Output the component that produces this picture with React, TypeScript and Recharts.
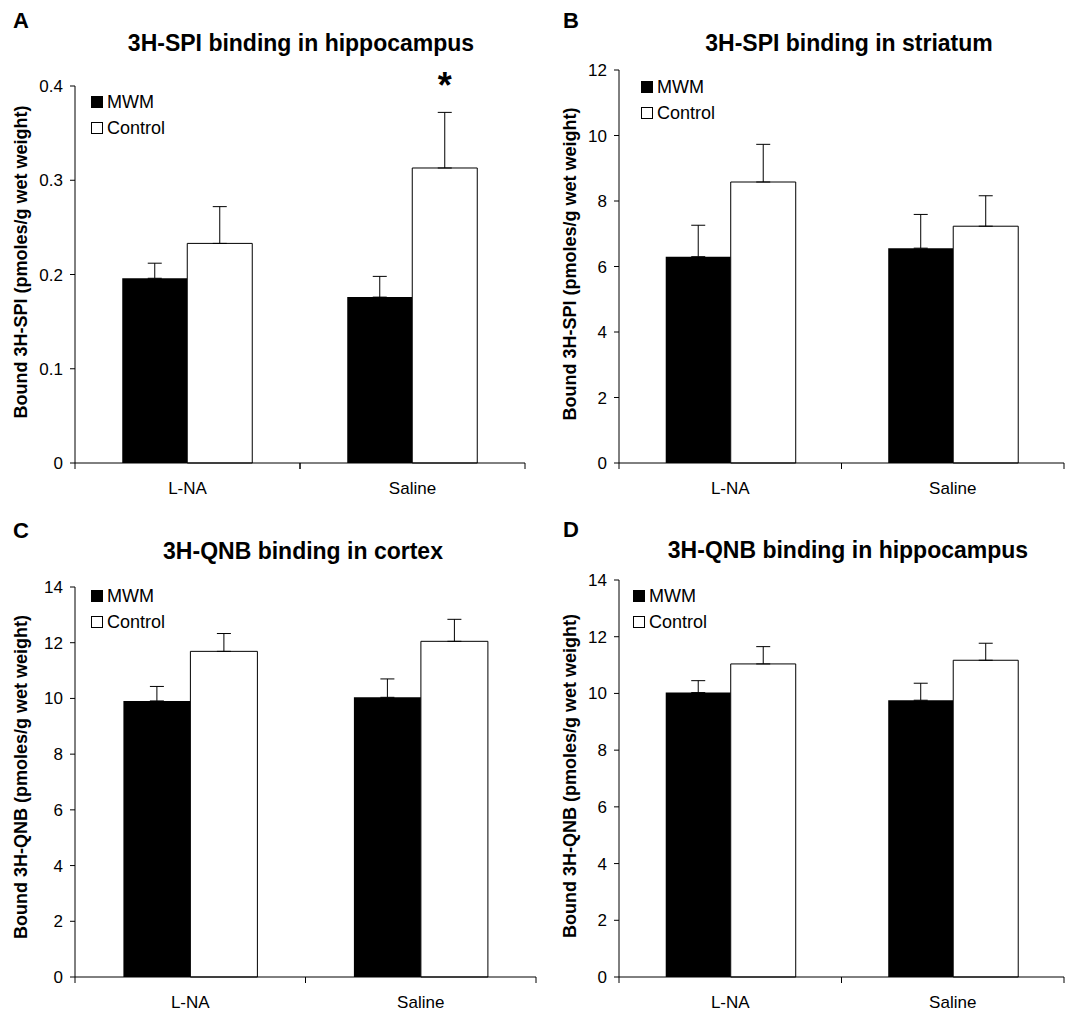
import React from 'react'
import { BarChart, Bar, XAxis, YAxis, ErrorBar, Legend } from 'recharts'

const FONT = '"Liberation Sans", Arial, sans-serif'

const categories = ['L-NA', 'Saline']
const seriesNames = ['MWM', 'Control']

// A: 3H-SPI in hippocampus
const spiHippMwm = [0.196, 0.176]
const spiHippMwmErr = [0.016, 0.022]
const spiHippCtrl = [0.233, 0.313]
const spiHippCtrlErr = [0.039, 0.059]
const spiHippSig = [false, true]
const spiHippTicks = [0, 0.1, 0.2, 0.3, 0.4]

// B: 3H-SPI in striatum
const spiStrMwm = [6.3, 6.56]
const spiStrMwmErr = [0.96, 1.03]
const spiStrCtrl = [8.58, 7.23]
const spiStrCtrlErr = [1.15, 0.93]
const spiStrTicks = [0, 2, 4, 6, 8, 10, 12]

// C: 3H-QNB in cortex
const qnbCtxMwm = [9.91, 10.04]
const qnbCtxMwmErr = [0.52, 0.66]
const qnbCtxCtrl = [11.69, 12.05]
const qnbCtxCtrlErr = [0.64, 0.79]

// D: 3H-QNB in hippocampus
const qnbHippMwm = [10.03, 9.76]
const qnbHippMwmErr = [0.42, 0.6]
const qnbHippCtrl = [11.04, 11.17]
const qnbHippCtrlErr = [0.61, 0.6]
const qnbTicks = [0, 2, 4, 6, 8, 10, 12, 14]

const noSig = [false, false]

function buildData(mwm: number[], mwmErr: number[], ctrl: number[], ctrlErr: number[], sig: boolean[]) {
  return categories.map((cat, i) => ({
    cat,
    mwm: mwm[i],
    mwmErr: [0, mwmErr[i]],
    ctrl: ctrl[i],
    ctrlErr: [0, ctrlErr[i]],
    sig: sig[i],
  }))
}

const renderLegend = (props: any) => {
  const items = [...(props.payload || [])].sort(
    (a: any, b: any) => seriesNames.indexOf(a.value) - seriesNames.indexOf(b.value)
  )
  return (
    <div style={{ fontFamily: FONT, fontSize: 18, color: '#000' }}>
      {items.map((e: any) => (
        <div key={e.value} style={{ display: 'flex', alignItems: 'center', height: 26 }}>
          <span
            style={{
              display: 'inline-block',
              width: 10,
              height: 10,
              background: e.color,
              border: '1px solid #000',
              marginRight: 4,
            }}
          />
          <span>{e.value}</span>
        </div>
      ))}
    </div>
  )
}

interface PanelProps {
  left: number
  top: number
  width: number
  height: number
  margin: { top: number; right: number; bottom: number; left: number }
  yWidth: number
  ticks: number[]
  data: any[]
  yLabel: string
  yLabelX: number
  yLabelY: number
  legendLeft: number
  legendTop: number
}

function Panel(p: PanelProps) {
  const plotW = p.width - p.margin.left - p.margin.right - p.yWidth
  const band = plotW / categories.length

  const catTick = (t: any) => {
    const { x, y, payload } = t
    return (
      <g>
        <line x1={x - band / 2} x2={x - band / 2} y1={y} y2={y + 6} stroke="#000" />
        <line x1={x + band / 2} x2={x + band / 2} y1={y} y2={y + 6} stroke="#000" />
        <text x={x} y={y + 31} textAnchor="middle" fontSize={17} fontFamily={FONT} fill="#000">
          {payload.value}
        </text>
      </g>
    )
  }

  const star = (l: any) => {
    const { x, y, width, index } = l
    if (!p.data[index] || !p.data[index].sig) return null
    return (
      <text x={x + width / 2} y={y - 70} textAnchor="middle" fontSize={36} fontWeight="bold" fontFamily={FONT} fill="#000">
        *
      </text>
    )
  }

  const yLabel = () => (
    <text
      x={p.yLabelX}
      y={p.yLabelY}
      transform={`rotate(-90 ${p.yLabelX} ${p.yLabelY})`}
      textAnchor="middle"
      fontSize={18}
      fontWeight="bold"
      fontFamily={FONT}
      fill="#000"
    >
      {p.yLabel}
    </text>
  )

  return (
    <div style={{ position: 'absolute', left: p.left, top: p.top }}>
      <BarChart width={p.width} height={p.height} data={p.data} margin={p.margin} barCategoryGap="21%" barGap={0}>
        <XAxis
          dataKey="cat"
          height={30}
          tickLine={false}
          tickSize={0}
          tickMargin={0}
          interval={0}
          axisLine={{ stroke: '#000' }}
          tick={catTick}
        />
        <YAxis
          width={p.yWidth}
          domain={[0, p.ticks[p.ticks.length - 1]]}
          ticks={p.ticks}
          interval={0}
          tickSize={5}
          tickMargin={7}
          axisLine={{ stroke: '#000' }}
          tickLine={{ stroke: '#000' }}
          tick={{ fontSize: 17, fill: '#000', fontFamily: FONT }}
          label={{ content: yLabel }}
        />
        <Legend
          layout="vertical"
          align="center"
          verticalAlign="middle"
          content={renderLegend}
          wrapperStyle={{ left: p.legendLeft, top: p.legendTop, width: 'auto', height: 'auto' }}
        />
        <Bar dataKey="mwm" name="MWM" fill="#000" isAnimationActive={false}>
          <ErrorBar dataKey="mwmErr" width={7} stroke="#000" strokeWidth={1} direction="y" isAnimationActive={false} />
        </Bar>
        <Bar dataKey="ctrl" name="Control" fill="#fff" stroke="#000" strokeWidth={1} isAnimationActive={false} label={star}>
          <ErrorBar dataKey="ctrlErr" width={7} stroke="#000" strokeWidth={1} direction="y" isAnimationActive={false} />
        </Bar>
      </BarChart>
    </div>
  )
}

const titleStyle = { fontSize: 23, fontWeight: 'bold' as const, fontFamily: FONT, fill: '#000' }
const letterStyle = { ...titleStyle, fontSize: 22 }

export default function App() {
  const dataA = buildData(spiHippMwm, spiHippMwmErr, spiHippCtrl, spiHippCtrlErr, spiHippSig)
  const dataB = buildData(spiStrMwm, spiStrMwmErr, spiStrCtrl, spiStrCtrlErr, noSig)
  const dataC = buildData(qnbCtxMwm, qnbCtxMwmErr, qnbCtxCtrl, qnbCtxCtrlErr, noSig)
  const dataD = buildData(qnbHippMwm, qnbHippMwmErr, qnbHippCtrl, qnbHippCtrlErr, noSig)

  return (
    <div style={{ position: 'absolute', left: 0, top: 0, width: 1067, height: 1011, background: '#fff', fontFamily: FONT }}>
      <Panel
        left={0} top={0} width={540} height={500}
        margin={{ top: 86, right: 15, bottom: 7, left: 0 }}
        yWidth={75} ticks={spiHippTicks} data={dataA}
        yLabel="Bound 3H-SPI (pmoles/g wet weight)" yLabelX={27} yLabelY={262}
        legendLeft={91} legendTop={89}
      />
      <Panel
        left={540} top={0} width={527} height={500}
        margin={{ top: 70, right: 3, bottom: 7, left: 0 }}
        yWidth={79} ticks={spiStrTicks} data={dataB}
        yLabel="Bound 3H-SPI (pmoles/g wet weight)" yLabelX={36} yLabelY={264}
        legendLeft={101} legendTop={74}
      />
      <Panel
        left={0} top={500} width={540} height={511}
        margin={{ top: 87, right: 4, bottom: 4, left: 0 }}
        yWidth={75} ticks={qnbTicks} data={dataC}
        yLabel="Bound 3H-QNB (pmoles/g wet weight)" yLabelX={27} yLabelY={277}
        legendLeft={91} legendTop={83}
      />
      <Panel
        left={540} top={500} width={527} height={511}
        margin={{ top: 80, right: 3, bottom: 4, left: 0 }}
        yWidth={79} ticks={qnbTicks} data={dataD}
        yLabel="Bound 3H-QNB (pmoles/g wet weight)" yLabelX={36} yLabelY={276}
        legendLeft={93} legendTop={83}
      />
      <svg width={1067} height={1011} style={{ position: 'absolute', left: 0, top: 0, pointerEvents: 'none' }}>
        <text x={13} y={28} style={letterStyle}>A</text>
        <text x={563} y={28} style={letterStyle}>B</text>
        <text x={13} y={538} style={letterStyle}>C</text>
        <text x={563} y={537} style={letterStyle}>D</text>
        <text x={301} y={51} textAnchor="middle" style={titleStyle}>3H-SPI binding in hippocampus</text>
        <text x={849} y={51} textAnchor="middle" style={titleStyle}>3H-SPI binding in striatum</text>
        <text x={303} y={559} textAnchor="middle" style={titleStyle}>3H-QNB binding in cortex</text>
        <text x={848} y={558} textAnchor="middle" style={titleStyle}>3H-QNB binding in hippocampus</text>
      </svg>
    </div>
  )
}
